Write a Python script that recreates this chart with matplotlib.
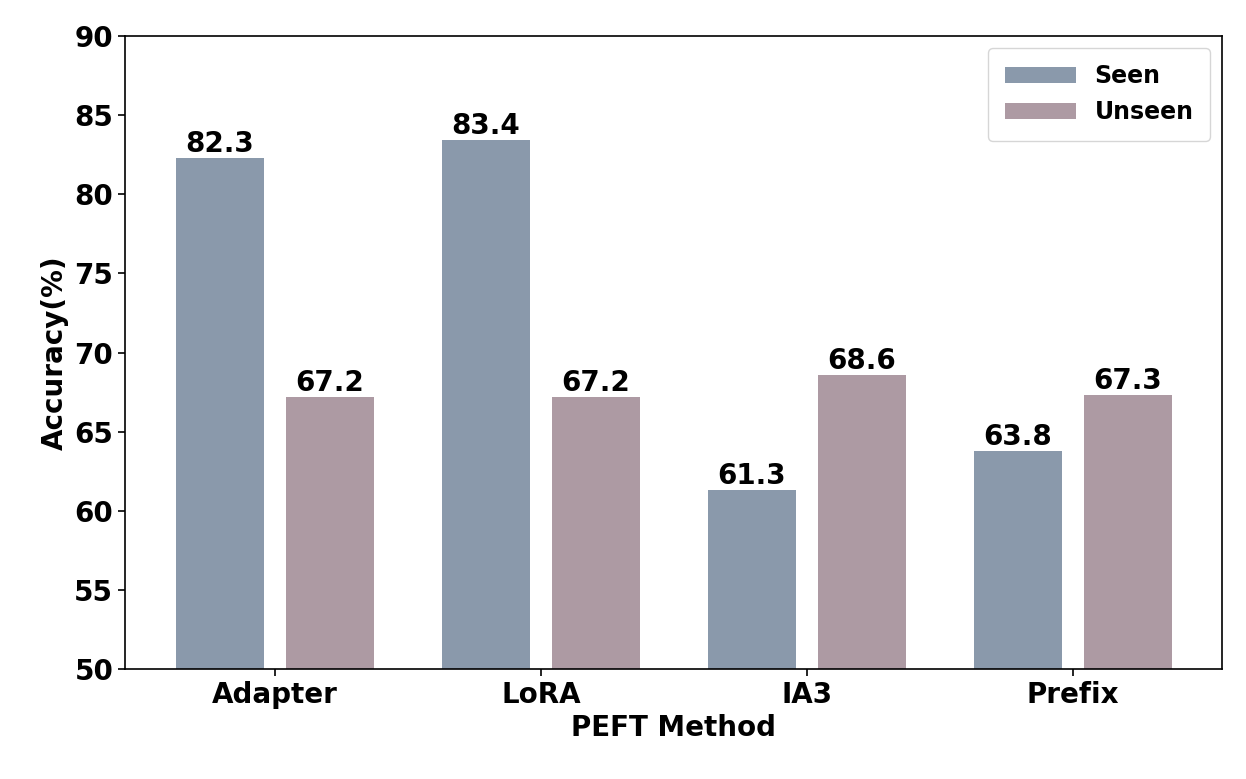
import numpy as np
import matplotlib.pyplot as plt

methods = ['Adapter', 'LoRA', 'IA3', 'Prefix']
seen = [82.3, 83.4, 61.3, 63.8]
unseen = [67.2, 67.2, 68.6, 67.3]

plt.rcParams['font.weight'] = 'bold'
fig = plt.figure(figsize=(12.46, 7.79), dpi=100)
ax = fig.add_axes([125/1246, 1-669/779, 1097/1246, 633/779])

x = np.arange(len(methods))
w = 0.33
off = 0.207
b1 = ax.bar(x - off, seen, w, color='#8a99ab', label='Seen')
b2 = ax.bar(x + off, unseen, w, color='#ad9aa3', label='Unseen')
for bars, vals in ((b1, seen), (b2, unseen)):
    for b, v in zip(bars, vals):
        ax.text(b.get_x() + b.get_width()/2, v, f'{v}', ha='center', va='bottom',
                fontsize=20, fontweight='bold')

ax.set_ylim(50, 90)
ax.set_xlim(-0.564, 3.56)
ax.set_xticks(x)
ax.set_xticklabels(methods)
ax.tick_params(labelsize=20, width=1.2, length=5)
ax.set_xlabel('PEFT Method', fontsize=20, fontweight='bold')
ax.set_ylabel('Accuracy(%)', fontsize=20, fontweight='bold')
for s in ax.spines.values():
    s.set_linewidth(1.2)
ax.legend(loc='upper right', fontsize=17, prop={'weight': 'bold', 'size': 17},
          handlelength=3, borderpad=0.7)
fig.savefig('out.png', dpi=100)
